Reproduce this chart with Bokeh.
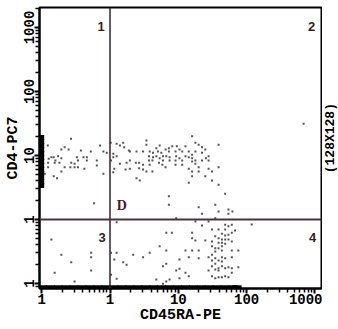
import math
import numpy as np
from bokeh.plotting import figure
from bokeh.layouts import row
from bokeh.models import FixedTicker, Span, Label
from bokeh.core.properties import value
from bokeh.embed import file_html
from bokeh.resources import INLINE

# ---- data (log10 of fluorescence intensity) ----
# upper band (CD4 ~ 10)
band_lx = [-0.911, -0.571, -0.824, -0.858, -0.712, -0.664, -0.606, -0.426, -0.281, -0.145,
           -0.097, -0.048, 0.01, 0.048, 0.145, 0.193, 0.208, 0.276, -0.897, -0.906,
           -0.906, -0.799, -0.760, -0.712, -0.810, -0.741, -0.664, -0.567, -0.519, -0.484,
           -0.469, -0.581, -0.519, -0.469, -0.388, -0.339, -0.339, -0.374, -0.193, -0.193,
           0.048, 0.097, 0.015, 0.145, 0.243, 0.063, 0.228, -0.097, 0.048, -0.955,
           -0.824, -0.775, -0.712, 0.097,
           1.202, 0.533, 0.533, 1.250, 1.298, 1.347, 1.395, 1.589, 0.727, 0.679,
           0.814, 0.862, 0.911, 0.978, 1.017, 1.105, 0.291, 0.388, 0.484, 0.581,
           0.629, 0.702, 0.751, 0.862, 0.959, 1.057, 1.153, 1.202, 1.250, 1.347,
           0.571, 0.629, 0.679, 0.727, 0.775, 0.824, 0.872, 0.969, 1.017, 1.105,
           1.153, 1.202, 1.405, 1.443, 0.291, 0.571, 0.621, 0.775, 0.872, 0.959,
           1.057, 1.202, 1.250, 1.347, 1.443, 0.378, 0.426, 0.484, 0.581, 0.717,
           0.766, 0.814, 0.959, 1.057, 1.250, 1.298, 1.589, 0.291, 0.426, 0.484,
           0.533, 0.621, 1.153, 1.202, 1.298, 1.443, 1.493, 1.202, 1.395, 1.493,
           0.388, 0.436, 1.153, 1.589, 1.686, 0.862, 0.862, 1.298, 1.541, 1.347,
           1.589, 1.734, 1.734, 1.792, -0.233, 2.834, 0.969, 1.541]
band_ly = [1.156, 1.261, 0.973, 0.973, 1.094, 1.130, 1.094, 1.078, 1.063, 1.156,
           1.063, 1.042, 1.198, 1.027, 1.156, 1.198, 1.130, 1.078, 0.948, 0.886,
           0.817, 0.922, 0.989, 0.958, 0.886, 0.886, 0.817, 0.886, 0.870, 0.973,
           0.922, 0.817, 0.817, 0.817, 0.973, 0.973, 0.922, 0.792, 0.922, 0.844,
           0.973, 0.989, 0.922, 0.870, 0.886, 0.792, 0.781, 0.714, 0.739, 0.714,
           0.677, 0.645, 0.750, 1.183,
           1.302, 1.234, 1.167, 1.198, 1.167, 1.130, 1.094, 1.167, 1.156, 1.114,
           1.094, 1.114, 1.145, 1.145, 1.094, 1.145, 1.063, 1.063, 1.063, 1.063,
           1.042, 1.063, 1.042, 1.063, 1.063, 1.063, 1.063, 1.011, 1.063, 1.042,
           0.989, 0.973, 0.989, 0.958, 0.989, 0.989, 0.973, 0.989, 0.958, 0.989,
           0.973, 0.958, 0.958, 0.989, 0.922, 0.922, 0.922, 0.922, 0.922, 0.922,
           0.922, 0.906, 0.922, 0.922, 0.922, 0.886, 0.886, 0.855, 0.855, 0.886,
           0.855, 0.817, 0.855, 0.855, 0.870, 0.817, 0.817, 0.792, 0.802, 0.781,
           0.750, 0.750, 0.792, 0.750, 0.750, 0.792, 0.750, 0.677, 0.677, 0.609,
           0.645, 0.609, 0.573, 0.542, 0.402, 0.364, 0.230, 0.192, 0.230, 0.089,
           0.125, 0.156, 0.089, 0.125, 0.255, 1.495, 0.020, 0.020]

# lower populations (CD4 < 1)
low_lx = [1.250, 1.443, 1.347, 1.686, 1.734, 1.783, 1.493, 1.589, 1.686, 1.831,
          1.783, 1.202, 1.638, 1.686, 1.734, 1.541, 1.202, 1.250, 1.395, 1.589,
          1.638, 1.686, 1.734, 1.493, 1.589, 1.638, 1.686, 1.783, 1.493, 1.541,
          1.589, 1.638, 1.105, 1.202, 1.298, 1.541, 1.638, 1.783, 1.879, 1.153,
          1.298, 1.493, 1.443, 1.541, 1.638, 1.686, 1.783, 1.493, 1.589, 1.638,
          1.541, 1.493, 1.638, 1.734, 1.783, 1.589, 1.686, 1.879, 1.443, 1.541,
          1.589, 1.105, 1.153, 1.493, 1.541, 1.589, 1.638, 1.686, 1.783, 1.734,
          1.017, 1.017,
          0.097, -0.858, -0.712, -0.567, -0.810, -0.519, -0.276, -0.276, -0.276, 0.015,
          0.015, 0.097, 0.063, 0.193, 0.243, 0.097, 0.339, 0.484, 0.581, 0.727,
          0.824, 0.906, 0.824, 0.775, 0.824, 1.017, 0.969, 0.679, 0.872, 0.775,
          0.824, 2.074]
low_ly = [-0.031, -0.031, -0.094, -0.083, -0.105, -0.083, -0.156, -0.156, -0.156, -0.172,
          -0.208, -0.208, -0.223, -0.250, -0.239, -0.261, -0.292, -0.328, -0.328, -0.292,
          -0.313, -0.313, -0.313, -0.344, -0.364, -0.364, -0.380, -0.344, -0.417, -0.448,
          -0.448, -0.417, -0.484, -0.484, -0.484, -0.500, -0.484, -0.484, -0.484, -0.589,
          -0.605, -0.552, -0.589, -0.605, -0.589, -0.605, -0.589, -0.641, -0.641, -0.656,
          -0.692, -0.730, -0.730, -0.745, -0.761, -0.761, -0.761, -0.745, -0.797, -0.781,
          -0.797, -0.833, -0.886, -0.886, -0.917, -0.902, -0.902, -0.886, -0.833, -0.902,
          -0.770, -0.917,
          -0.042, -0.313, -0.552, -0.667, -0.833, -0.969, -0.520, -0.589, -0.797, -0.520,
          -0.864, -0.520, -0.625, -0.667, -0.708, -0.927, -0.552, -0.589, -0.520, -0.417,
          -0.208, -0.208, -0.484, -0.730, -0.692, -0.625, -0.797, -0.938, -0.938, -1.005,
          -0.969, -0.078]

# events piled up on the low edge of each axis
pile_left_ly = [1.281, 1.219, 1.156, 1.094, 1.031, 0.969, 0.906, 0.844, 0.781, 0.719,
                0.656, 0.594, 0.531]
pile_left_lx = -1.0
pile_bottom_lx = [-0.988, -0.872, -0.756, -0.640, -0.523, -0.407, -0.291, -0.174, -0.058, 0.058,
                  0.174, 0.291, 0.407, 0.523, 0.640, 0.756, 0.872, 0.988, 1.105, 1.221,
                  1.337, 1.453, 1.570, 1.686, 1.802, 1.860]
pile_bottom_ly = -1.05

tick_values = [0.1, 1, 10, 100, 1000]
tick_labels = ["1", "1", "10", "100", "1000"]
gate_x = 1
gate_y = 1
quadrants = ["1", "2", "3", "4"]
resolution_text = "(128X128)"

# ---- figure ----
x_range = (10 ** -1.032, 10 ** 3.096)
y_range = (10 ** -1.078, 10 ** 3.3125)

FONT = "Liberation Mono"
p = figure(width=322, height=329, x_axis_type="log", y_axis_type="log",
           x_range=x_range, y_range=y_range, output_backend="svg",
           toolbar_location=None, min_border_left=39, min_border_right=1,
           min_border_top=7, min_border_bottom=41)
p.grid.visible = False
p.background_fill_color = "white"
p.border_fill_color = "white"
p.outline_line_color = "black"
p.outline_line_width = 2

minor = [m * 10.0 ** d for d in range(-2, 4) for m in range(2, 10)]
overrides = {v: t for v, t in zip(tick_values, tick_labels)}

for ax in (p.xaxis[0], p.yaxis[0]):
    ax.ticker = FixedTicker(ticks=tick_values, minor_ticks=minor)
    ax.major_label_overrides = overrides
    ax.axis_line_width = 2
    ax.axis_line_color = "black"
    ax.major_tick_line_width = 2
    ax.minor_tick_line_width = 1.5
    ax.major_tick_out = 5
    ax.major_tick_in = 0
    ax.minor_tick_out = 4
    ax.minor_tick_in = 0
    ax.major_label_text_font = FONT
    ax.major_label_text_font_style = "bold"
    ax.major_label_text_font_size = "14px"
    ax.major_label_text_color = "black"
    ax.axis_label_text_font = FONT
    ax.axis_label_text_font_style = "bold"
    ax.axis_label_text_font_size = "15px"
    ax.axis_label_text_color = "black"
    ax.major_label_standoff = 0
    ax.axis_label_standoff = 0

p.xaxis.axis_label = "CD45RA-PE"
p.yaxis.axis_label = "CD4-PC7"
p.yaxis.major_label_orientation = "vertical"

# gates
p.add_layout(Span(location=gate_x, dimension="height", line_color="#3c1f2e", line_width=1.5))
p.add_layout(Span(location=gate_y, dimension="width", line_color="#4a3040", line_width=2))

# events
dot_color = "#555555"
p.scatter(10 ** np.array(band_lx), 10 ** np.array(band_ly), marker="square", size=2,
          fill_color=dot_color, line_color=None)
p.scatter(10 ** np.array(low_lx), 10 ** np.array(low_ly), marker="square", size=2,
          fill_color=dot_color, line_color=None)
p.scatter([10 ** pile_left_lx] * len(pile_left_ly), 10 ** np.array(pile_left_ly),
          marker="square", size=5, fill_color="black", line_color=None)
p.scatter(10 ** np.array(pile_bottom_lx), [10 ** pile_bottom_ly] * len(pile_bottom_lx),
          marker="dash", size=9, line_color="black", line_width=3)

# quadrant labels
qcol = "#3a1c24"
qpos = [(0.74, 1040), (893, 1040), (0.765, 0.523), (922, 0.523)]
for t, (qx, qy) in zip(quadrants, qpos):
    p.add_layout(Label(x=qx, y=qy, text=t, text_align="center", text_baseline="middle",
                       text_font="Liberation Sans", text_font_style="bold",
                       text_font_size="13px", text_color=qcol))
p.add_layout(Label(x=1.49, y=1.65, text="D", text_align="center", text_baseline="middle",
                   text_font="Liberation Serif", text_font_style="bold",
                   text_font_size="14px", text_color="#4a1a2a"))

# narrow strip on the right carrying the resolution note (reads bottom to top)
strip = figure(width=16, height=329, x_range=(0, 1), y_range=(0, 1),
               output_backend="svg", toolbar_location=None,
               x_axis_location=None, y_axis_location=None,
               min_border_left=0, min_border_right=0, min_border_top=0, min_border_bottom=0)
strip.grid.visible = False
strip.outline_line_color = None
strip.background_fill_color = "white"
strip.border_fill_color = "white"
strip.text(x=[0.5], y=[0.535], text=[resolution_text], angle=math.pi / 2,
           text_align="center", text_baseline="middle", text_font=value(FONT),
           text_font_style="bold", text_font_size="13px", text_color="black")

layout = row(p, strip, spacing=0)
open("out.html", "w").write(file_html(layout, INLINE))
